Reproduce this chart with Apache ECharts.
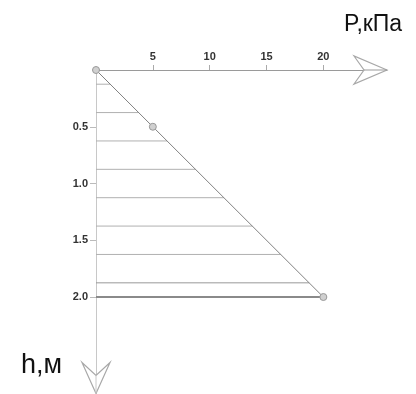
<!DOCTYPE html>
<html><head><meta charset="utf-8">
<script src="https://cdn.jsdelivr.net/npm/echarts@6/dist/echarts.min.js"></script>
<style>html,body{margin:0;padding:0;background:#fff}#c{width:416px;height:394px}</style>
</head><body><div id="c"></div>
<script>
// Data
const pressureTicks = [5, 10, 15, 20];
const depthTicks = [0.5, 1.0, 1.5, 2.0];
const diagramP = [0, 5, 20];          // кПа
const diagramH = [0, 0.5, 2.0];       // м
const hatchH = [0.125, 0.375, 0.625, 0.875, 1.125, 1.375, 1.625, 1.875, 2.0];
const hatchP = [1.25, 3.75, 6.25, 8.75, 11.25, 13.75, 16.25, 18.75, 20];
const xAxisName = 'P,кПа';
const yAxisName = 'h,м';
const xMax = 25.6, yMax = 2.85;

const chart = echarts.init(document.getElementById('c'));
const font = 'Liberation Sans, Arial, sans-serif';

chart.setOption({
  animation: false,
  grid: { left: 96, top: 70, width: 291, height: 323.5, containLabel: false },
  xAxis: {
    type: 'value', position: 'top', min: 0, max: xMax,
    splitLine: { show: false },
    axisLine: { show: true, onZero: false, lineStyle: { color: '#9a9a9a', width: 1 } },
    axisTick: { show: true, length: 5, customValues: pressureTicks, lineStyle: { color: '#aaa' } },
    axisLabel: { show: true, margin: 8, customValues: pressureTicks, color: '#333', fontSize: 11, fontWeight: 'bold', fontFamily: font }
  },
  yAxis: {
    type: 'value', inverse: true, min: 0, max: yMax,
    splitLine: { show: false },
    axisLine: { show: true, onZero: false, lineStyle: { color: '#c8c8c8', width: 1 } },
    axisTick: { show: true, length: 6, customValues: depthTicks, lineStyle: { color: '#bbb' } },
    axisLabel: { show: true, margin: 8, customValues: depthTicks, color: '#333', fontSize: 11, fontWeight: 'bold', fontFamily: font,
      formatter: v => v.toFixed(1) }
  },
  series: [
    {
      type: 'custom', coordinateSystem: 'cartesian2d', clip: false, silent: true,
      data: hatchH.map((h, i) => [hatchP[i], h]),
      renderItem: function (params, api) {
        const p = api.value(0), h = api.value(1);
        const a = api.coord([0, h]), b = api.coord([p, h]);
        const last = params.dataIndex === hatchH.length - 1;
        const second = params.dataIndex === hatchH.length - 2;
        return {
          type: 'line',
          shape: { x1: a[0], y1: a[1], x2: b[0], y2: b[1] },
          style: { stroke: last ? '#8a8a8a' : (second ? '#999' : '#b0b0b0'), lineWidth: last ? 2 : 1 }
        };
      }
    },
    {
      type: 'line', data: diagramP.map((p, i) => [p, diagramH[i]]),
      lineStyle: { color: '#808080', width: 1 },
      symbol: 'circle', symbolSize: 7,
      itemStyle: { color: '#d0d0d0', borderColor: '#999', borderWidth: 1 },
      silent: true, z: 3
    }
  ]
});

// Arrow heads and axis names
const xe = chart.convertToPixel({ gridIndex: 0 }, [xMax, 0]);
const ye = chart.convertToPixel({ gridIndex: 0 }, [0, yMax]);
const arrowStyle = { stroke: '#a8a8a8', fill: '#fff', lineWidth: 1.2 };
chart.setOption({
  graphic: [
    { type: 'polygon', shape: { points: [[xe[0], xe[1]], [xe[0] - 33, xe[1] - 14], [xe[0] - 23, xe[1]], [xe[0] - 33, xe[1] + 14]] }, style: arrowStyle, z: 10 },
    { type: 'line', shape: { x1: xe[0] - 23, y1: xe[1], x2: xe[0], y2: xe[1] }, style: { stroke: '#9a9a9a', lineWidth: 1 }, z: 11 },
    { type: 'polygon', shape: { points: [[ye[0], ye[1]], [ye[0] - 14, ye[1] - 31], [ye[0], ye[1] - 18], [ye[0] + 14, ye[1] - 31]] }, style: arrowStyle, z: 10 },
    { type: 'line', shape: { x1: ye[0], y1: ye[1] - 18, x2: ye[0], y2: ye[1] }, style: { stroke: '#c8c8c8', lineWidth: 1 }, z: 11 },
    { type: 'text', left: 344, top: 13, style: { text: xAxisName, fontSize: 23, fontFamily: font, fill: '#111' } },
    { type: 'text', left: 21, top: 352, style: { text: yAxisName, fontSize: 27, fontFamily: font, fill: '#111' } }
  ]
});
</script></body></html>
